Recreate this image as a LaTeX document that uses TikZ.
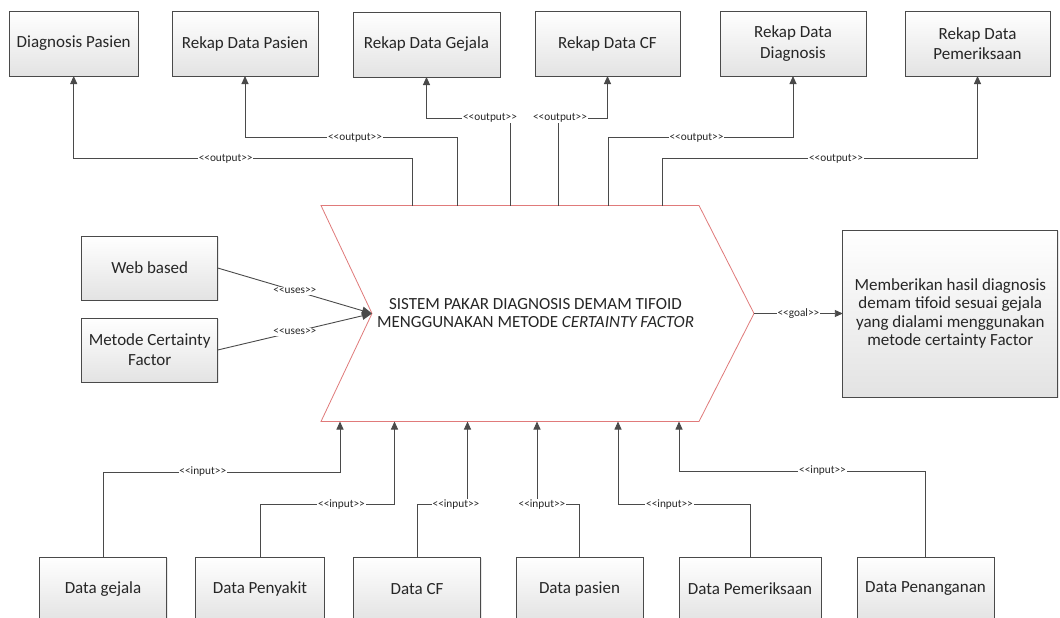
\documentclass[tikz,border=0pt]{standalone}
\usepackage{fontspec}
\setmainfont{Carlito}[Ligatures=TeXOff]
\usetikzlibrary{arrows.meta,shadows}

\definecolor{edge}{HTML}{4A4A4A}
\definecolor{ink}{HTML}{262626}
\definecolor{chev}{HTML}{E07A7A}

\begin{document}
\begin{tikzpicture}[x=1pt,y=-1pt,
  box/.style={draw=edge, line width=0.9pt, top color=white, bottom color=black!11,
    text=ink, align=center, inner sep=2pt, outer sep=0pt,
    font=\fontsize{17}{20.3}\selectfont,
    drop shadow={opacity=0.18, shadow xshift=1.2pt, shadow yshift=-1.2pt}},
  conn/.style={draw=edge, line width=0.9pt, -{Triangle[length=8pt,width=7pt]}},
  usesconn/.style={draw=edge, line width=0.9pt, -{Triangle[length=10pt,width=8pt]}},
  lbl/.style={fill=white, inner sep=0.8pt, text=ink, font=\fontsize{11.3}{13}\selectfont},
]
\fill[white] (0,0) rectangle (1060,618);
\useasboundingbox (0,0) rectangle (1060,618);

% central chevron
\coordinate (ch-nw) at (321,205.5);
\coordinate (ch-ne) at (699,205.5);
\coordinate (ch-e)  at (754,313.5);
\coordinate (ch-se) at (699,421.5);
\coordinate (ch-sw) at (321,421.5);
\coordinate (ch-w)  at (372,313.5);
\draw[draw=chev, fill=white, line width=0.8pt]
  (ch-nw) -- (ch-ne) -- (ch-e) -- (ch-se) -- (ch-sw) -- (ch-w) -- cycle;
\node[text=ink, align=center, font=\fontsize{17}{18}\selectfont] (sys) at (535.5,313.5)
  {SISTEM PAKAR DIAGNOSIS DEMAM TIFOID\\MENGGUNAKAN METODE \textit{CERTAINTY FACTOR}};

% ports on the chevron
\coordinate (o1) at (412.4,205.5);
\coordinate (o2) at (457,205.5);
\coordinate (o3) at (510,205.5);
\coordinate (o4) at (558,205.5);
\coordinate (o5) at (608,205.5);
\coordinate (o6) at (662,205.5);
\coordinate (i1) at (340,421.5);
\coordinate (i2) at (394.5,421.5);
\coordinate (i3) at (467.5,421.5);
\coordinate (i4) at (537,421.5);
\coordinate (i5) at (618,421.5);
\coordinate (i6) at (679,421.5);

% outputs
\node[box, minimum width=128.5, minimum height=65] (out1) at (73.7,43.5) {Diagnosis Pasien};
\node[box, minimum width=146, minimum height=65] (out2) at (245,43.5) {Rekap Data Pasien};
\node[box, minimum width=147, minimum height=65] (out3) at (426.5,44.5) {Rekap Data Gejala};
\node[box, minimum width=145, minimum height=65] (out4) at (607.5,43.5) {Rekap Data CF};
\node[box, minimum width=146, minimum height=65] (out5) at (793,43.5) {Rekap Data\\Diagnosis};
\node[box, minimum width=145, minimum height=65] (out6) at (977.5,43.5) {Rekap Data\\Pemeriksaan};

% supporting elements
\node[box, minimum width=136, minimum height=64] (web) at (149.7,268) {Web based};
\node[box, minimum width=136, minimum height=64] (cfm) at (149.7,350) {Metode Certainty\\Factor};

% goal
\node[box, minimum width=215, minimum height=167, font=\fontsize{17}{18.4}\selectfont]
  (goal) at (950.3,313.5)
  {Memberikan hasil diagnosis\\demam tifoid sesuai gejala\\yang dialami menggunakan\\metode certainty Factor};

% inputs
\node[box, minimum width=127.5, minimum height=64] (in1) at (103,589) {Data gejala};
\node[box, minimum width=128.5, minimum height=64] (in2) at (260,589) {Data Penyakit};
\node[box, minimum width=127.7, minimum height=64] (in3) at (417,589) {Data CF};
\node[box, minimum width=127, minimum height=64] (in4) at (579.5,589) {Data pasien};
\node[box, minimum width=142, minimum height=64] (in5) at (750,589) {Data Pemeriksaan};
\node[box, minimum width=137, minimum height=64] (in6) at (925.5,589) {Data Penanganan};

% output connectors
\draw[conn] (o1) -- ++(0,-47)   -| (out1.south);
\draw[conn] (o2) -- ++(0,-68)   -| (out2.south);
\draw[conn] (o3) -- ++(0,-87.5) -| (out3.south);
\draw[conn] (o4) -- ++(0,-87.5) -| (out4.south);
\draw[conn] (o5) -- ++(0,-68)   -| (out5.south);
\draw[conn] (o6) -- ++(0,-47)   -| (out6.south);

% input connectors
\draw[conn] (in1.north) -- ++(0,-85)   -| (i1);
\draw[conn] (in2.north) -- ++(0,-52.5) -| (i2);
\draw[conn] (in3.north) -- ++(0,-52.5) -| (i3);
\draw[conn] (in4.north) -- ++(0,-52.5) -| (i4);
\draw[conn] (in5.north) -- ++(0,-52.5) -| (i5);
\draw[conn] (in6.north) -- ++(0,-86)   -| (i6);

% uses and goal connectors
\draw[usesconn] (web.east) -- node[lbl] (l-u1) {<<uses>>} (ch-w);
\draw[usesconn] (cfm.east) -- node[lbl] (l-u2) {<<uses>>} (ch-w);
\draw[conn] (ch-e) -- node[lbl] (l-g) {<<goal>>} (goal.west);

% stereotype labels
\node[lbl] (l-o1) at (225.7,158.5) {<<output>>};
\node[lbl] (l-o2) at (355,137.5)   {<<output>>};
\node[lbl] (l-o3) at (490,118)     {<<output>>};
\node[lbl] (l-o4) at (560,118)     {<<output>>};
\node[lbl] (l-o5) at (696.5,137.5) {<<output>>};
\node[lbl] (l-o6) at (836,158.5)   {<<output>>};
\node[lbl] (l-i1) at (202.8,472)   {<<input>>};
\node[lbl] (l-i2) at (341.5,504.5) {<<input>>};
\node[lbl] (l-i3) at (456,504.5)   {<<input>>};
\node[lbl] (l-i4) at (542,504.5)   {<<input>>};
\node[lbl] (l-i5) at (669.5,504.5) {<<input>>};
\node[lbl] (l-i6) at (822.5,471)   {<<input>>};
\end{tikzpicture}
\end{document}
